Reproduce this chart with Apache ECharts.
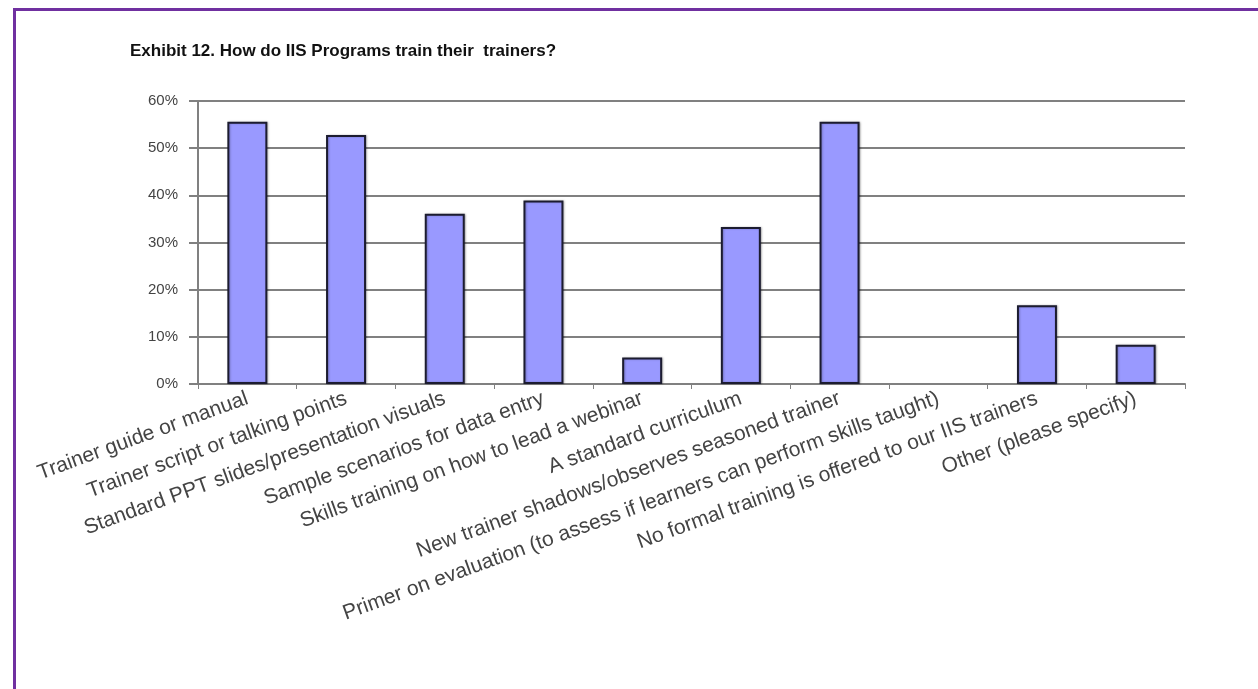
<!DOCTYPE html>
<html>
<head>
<meta charset="utf-8">
<script src="https://cdn.jsdelivr.net/npm/echarts@6/dist/echarts.min.js"></script>
<style>
  html, body { margin: 0; padding: 0; background: #fff; }
  #frame {
    position: absolute; left: 13px; top: 8px; width: 1245px; height: 681px;
    border-left: 3px solid #7030a0; border-top: 3px solid #7030a0;
  }
  #chart { position: absolute; left: 0; top: 0; width: 1258px; height: 689px; }
</style>
</head>
<body>
<div id="frame"></div>
<div id="chart"></div>
<script>
// categories and share of programs (36 respondents)
const categories = [
  'Trainer guide or manual',
  'Trainer script or talking points',
  'Standard PPT slides/presentation visuals',
  'Sample scenarios for data entry',
  'Skills training on how to lead a webinar',
  'A standard curriculum',
  'New trainer shadows/observes seasoned trainer',
  'Primer on evaluation (to assess if learners can perform skills taught)',
  'No formal training is offered to our IIS trainers',
  'Other (please specify)'
];
const percents = [55.6, 52.8, 36.1, 38.9, 5.6, 33.3, 55.6, 0, 16.7, 8.3];
const yTicks = [0, 10, 20, 30, 40, 50, 60];

const font = '"Liberation Sans", Arial, sans-serif';

const chart = echarts.init(document.getElementById('chart'));
const option = {
  backgroundColor: 'transparent',
  animation: false,
  title: {
    text: 'Exhibit 12. How do IIS Programs train their  trainers?',
    left: 125,
    top: 38,
    textStyle: {
      fontFamily: font,
      fontSize: 17,
      fontWeight: 'bold',
      color: '#111'
    }
  },
  grid: {
    left: 198,
    right: 73,
    top: 101,
    bottom: 305
  },
  xAxis: {
    type: 'category',
    data: categories,
    axisLine: { lineStyle: { color: '#808080', width: 2 } },
    axisTick: { show: true, length: 5, lineStyle: { color: '#808080', width: 1 } },
    axisLabel: {
      rotate: 20,
      interval: 0,
      margin: 14,
      fontFamily: font,
      fontSize: 21,
      color: '#444'
    }
  },
  yAxis: {
    type: 'value',
    min: yTicks[0],
    max: yTicks[yTicks.length - 1],
    interval: 10,
    axisLine: { show: true, lineStyle: { color: '#808080', width: 2 } },
    axisTick: { show: true, length: 9, lineStyle: { color: '#808080', width: 2 } },
    axisLabel: {
      formatter: '{value}%',
      margin: 20,
      fontFamily: font,
      fontSize: 15,
      color: '#444'
    },
    splitLine: { lineStyle: { color: '#808080', width: 2 } }
  },
  series: [
    {
      type: 'bar',
      data: percents.map(v => v === 0 ? { value: v, itemStyle: { borderWidth: 0 } } : v),
      barWidth: 40,
      itemStyle: {
        color: '#9999ff',
        borderColor: '#1c1c30',
        borderWidth: 2,
        shadowColor: 'rgba(0,0,0,0.25)',
        shadowBlur: 2,
        shadowOffsetX: 1,
        shadowOffsetY: 0
      }
    }
  ]
};
chart.setOption(option);
</script>
</body>
</html>
